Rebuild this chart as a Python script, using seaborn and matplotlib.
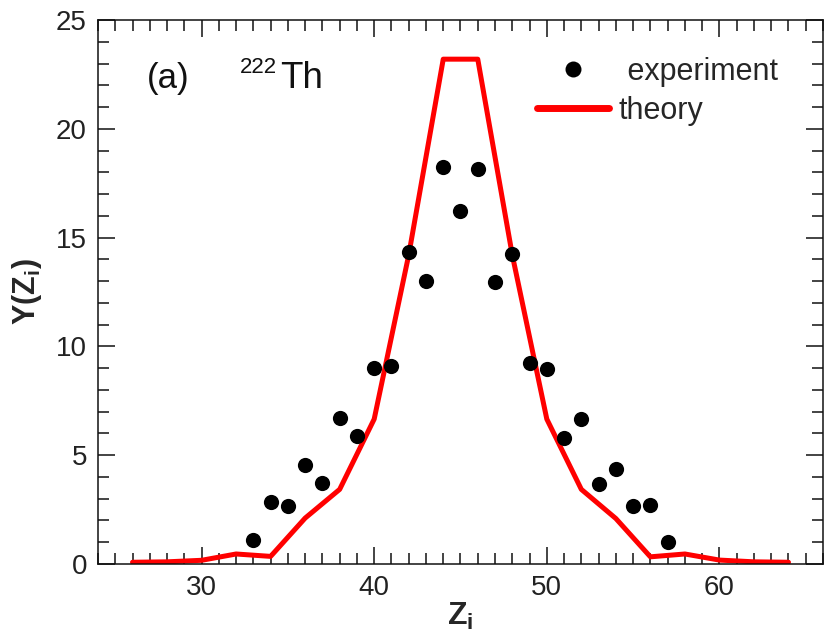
import matplotlib
matplotlib.use("Agg")
import matplotlib.pyplot as plt
import seaborn as sns
import pandas as pd
from matplotlib.ticker import MultipleLocator
from matplotlib.lines import Line2D

# ---- data ----
exp_z = [33, 34, 35, 36, 37, 38, 39, 40, 41, 42, 43, 44, 45, 46, 47, 48,
         49, 50, 51, 52, 53, 54, 55, 56, 57]
exp_y = [1.12, 2.84, 2.67, 4.56, 3.74, 6.71, 5.90, 9.00, 9.10, 14.33, 12.99,
         18.25, 16.20, 18.17, 12.95, 14.25, 9.23, 8.95, 5.79, 6.68, 3.69,
         4.38, 2.67, 2.73, 0.99]
theory_z = [26, 28, 30, 32, 34, 36, 38, 40, 42, 44, 46, 48, 50, 52, 54, 56,
            58, 60, 62, 64]
theory_y = [0.08, 0.10, 0.17, 0.46, 0.35, 2.11, 3.43, 6.66, 14.2, 23.2, 23.2,
            14.2, 6.66, 3.43, 2.09, 0.33, 0.46, 0.18, 0.10, 0.08]
x_ticks = [30, 40, 50, 60]
y_ticks = [0, 5, 10, 15, 20, 25]

exp_df = pd.DataFrame({"Z": exp_z, "Y": exp_y})
th_df = pd.DataFrame({"Z": theory_z, "Y": theory_y})

sns.set_theme(style="ticks")
plt.rcParams["font.family"] = ["Liberation Sans", "DejaVu Sans"]
plt.rcParams["mathtext.fontset"] = "custom"
plt.rcParams["mathtext.rm"] = "Liberation Sans"
plt.rcParams["mathtext.bf"] = "Liberation Sans:bold"

fig = plt.figure(figsize=(8.25, 6.31), dpi=100)
ax = fig.add_axes([98 / 825, 1 - 564 / 631, 725 / 825, 544 / 631])

sns.lineplot(data=th_df, x="Z", y="Y", ax=ax, color="#ff0000", linewidth=3.6,
             sort=False, legend=False)
sns.scatterplot(data=exp_df, x="Z", y="Y", ax=ax, color="black", s=120,
                linewidth=0, legend=False, zorder=3)

ax.set_xlim(24, 66)
ax.set_ylim(0, 25)
ax.set_xticks(x_ticks)
ax.set_yticks(y_ticks)
ax.xaxis.set_minor_locator(MultipleLocator(1))
ax.yaxis.set_minor_locator(MultipleLocator(1))
ax.tick_params(which="both", direction="in", top=True, right=True,
               width=1.1, color="#111111")
ax.tick_params(which="major", length=12.5, labelsize=20, labelcolor="#222222",
               pad=8)
ax.tick_params(which="minor", length=8)
for sp in ax.spines.values():
    sp.set_linewidth(1.1)
    sp.set_color("#111111")

ax.set_xlabel(r"Z$_\mathbf{i}$", fontsize=23, fontweight="bold")
ax.set_ylabel(r"Y(Z$_\mathbf{i}$)", fontsize=22, fontweight="bold")
ax.xaxis.set_label_coords(0.5, -0.068)
ax.yaxis.set_label_coords(-0.074, 0.5)

ax.text(147 / 825, 1 - 88 / 631, "(a)", transform=fig.transFigure,
        fontsize=25, color="#111111", va="baseline", ha="left")
ax.text(240 / 825, 1 - 73 / 631, "222", transform=fig.transFigure,
        fontsize=16, color="#111111", va="baseline", ha="left")
ax.text(280 / 825, 1 - 88 / 631, "Th", transform=fig.transFigure,
        fontsize=26.5, color="#111111", va="baseline", ha="left")

handles = [
    Line2D([], [], marker="o", linestyle="none", color="black",
           markersize=11.5, markeredgewidth=0),
    Line2D([], [], color="#ff0000", linewidth=5),
]
ax.legend(handles, [" experiment", "theory"], loc="upper left",
          bbox_to_anchor=((537 - 98) / 725, (564 - 57) / 544),
          frameon=False, fontsize=22, borderpad=0, borderaxespad=0,
          handlelength=2.35, handletextpad=0.33, labelspacing=0.3)

sns.despine(ax=ax, top=False, right=False)
fig.savefig("out.png", dpi=100)
